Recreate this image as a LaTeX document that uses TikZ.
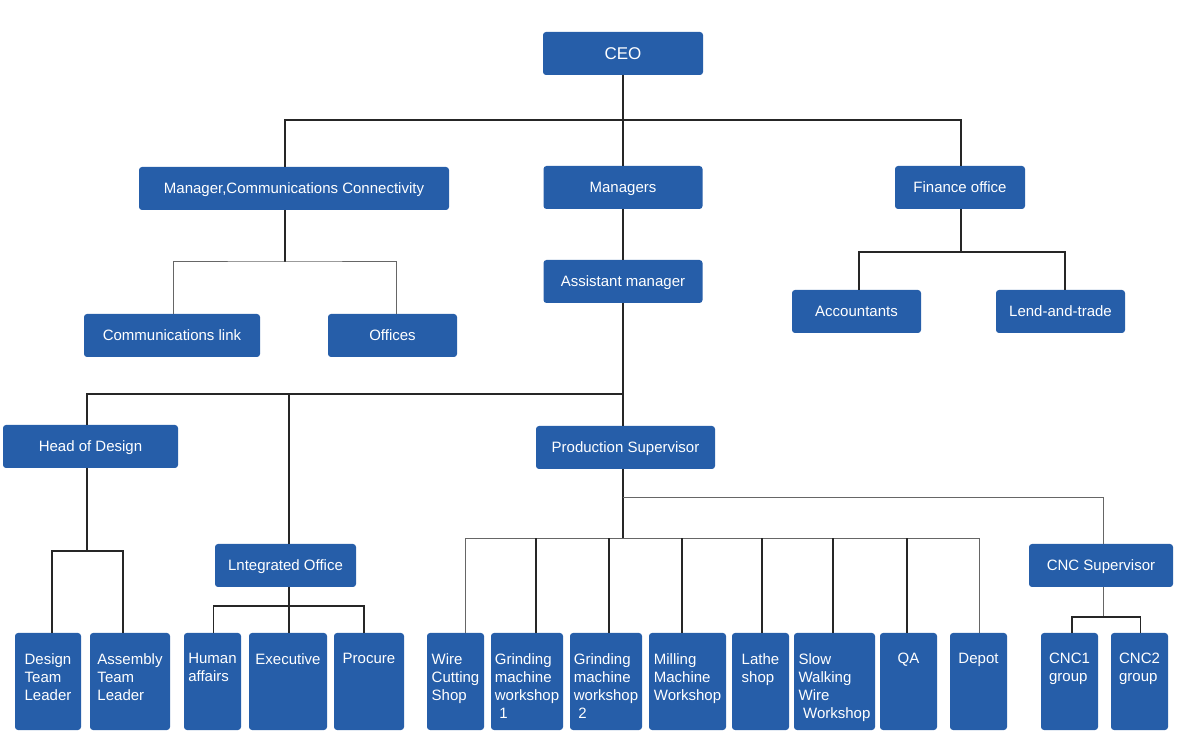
\documentclass[tikz,border=0pt]{standalone}
\usepackage{fontspec}
\setmainfont{Liberation Sans}
\usetikzlibrary{positioning}

\definecolor{boxblue}{HTML}{265EA9}

\tikzset{
  unit/.style={fill=boxblue, text=white, rounded corners=3pt, minimum height=43pt,
    inner sep=0pt, outer sep=0pt, text height=10.9pt, text depth=0pt,
    font=\fontsize{15}{18}\selectfont},
  leaf/.style={fill=boxblue, rounded corners=3pt, minimum height=97pt,
    inner sep=0pt, outer sep=0pt},
  leaftext/.style={text=white, align=left, inner sep=0pt, font=\fontsize{15}{18}\selectfont},
  link/.style={draw=black!85, line width=1.3pt},
  thinlink/.style={draw=black!60, line width=1pt},
}

\begin{document}
\begin{tikzpicture}[x=1pt, y=1pt]
  \useasboundingbox (0,0) rectangle (1200,753);

  % upper levels
  \node (ceo) [unit, minimum width=160pt, text height=12.4pt, font=\fontsize{17}{20}\selectfont] at (623,699.5) {CEO};
  \node (managers) [unit, minimum width=159pt, below=91pt of ceo] {Managers};
  \node (assistant) [unit, minimum width=159pt, below=51pt of managers] {Assistant manager};
  \node (mcc) [unit, minimum width=310pt] at (294,564.5) {Manager,Communications Connectivity};
  \node (finance) [unit, minimum width=130pt] at (960,565.5) {Finance office};
  \node (commlink) [unit, minimum width=176pt] at (172,417.5) {Communications link};
  \node (offices) [unit, minimum width=129pt, right=68pt of commlink] {Offices};
  \node (accountants) [unit, minimum width=129pt] at (856.5,441.5) {Accountants};
  \node (lend) [unit, minimum width=129pt, right=75pt of accountants] {Lend-and-trade};
  \node (design) [unit, minimum width=175pt] at (90.5,306.5) {Head of Design};
  \node (production) [unit, minimum width=179pt] at (625.5,305.5) {Production Supervisor};
  \node (integrated) [unit, minimum width=141pt] at (285.5,187.5) {Lntegrated Office};
  \node (cncsup) [unit, minimum width=144pt] at (1101,187.5) {CNC Supervisor};

  % bottom row
  \node (designlead) [leaf, minimum width=66pt] at (48,71.5) {};
  \node (assembly) [leaf, minimum width=80pt, right=9pt of designlead] {};
  \node (human) [leaf, minimum width=57pt, right=14pt of assembly] {};
  \node (executive) [leaf, minimum width=78pt, right=8pt of human] {};
  \node (procure) [leaf, minimum width=70pt, right=7pt of executive] {};
  \node (wire) [leaf, minimum width=57pt, right=23pt of procure] {};
  \node (grindone) [leaf, minimum width=72pt, right=7pt of wire] {};
  \node (grindtwo) [leaf, minimum width=72pt, right=7pt of grindone] {};
  \node (milling) [leaf, minimum width=77pt, right=7pt of grindtwo] {};
  \node (lathe) [leaf, minimum width=57pt, right=6pt of milling] {};
  \node (slow) [leaf, minimum width=81pt, right=5pt of lathe] {};
  \node (qa) [leaf, minimum width=57pt, right=5pt of slow] {};
  \node (depot) [leaf, minimum width=57pt, right=13pt of qa] {};
  \node (cncone) [leaf, minimum width=57pt, right=34pt of depot] {};
  \node (cnctwo) [leaf, minimum width=57pt, right=13pt of cncone] {};

  \node (designlead-t) [leaftext, below=20pt of designlead.north] {Design\\Team\\Leader};
  \node (assembly-t) [leaftext, below=20pt of assembly.north] {Assembly\\Team\\Leader};
  \node (human-t) [leaftext, below=20pt of human.north] {Human\\affairs};
  \node (executive-t) [leaftext, below=20pt of executive.north] {Executive};
  \node (procure-t) [leaftext, below=20pt of procure.north] {Procure};
  \node (wire-t) [leaftext, below=20pt of wire.north] {Wire\\Cutting\\Shop};
  \node (grindone-t) [leaftext, below=20pt of grindone.north] {Grinding\\machine\\workshop\\\hspace*{.3em}1};
  \node (grindtwo-t) [leaftext, below=20pt of grindtwo.north] {Grinding\\machine\\workshop\\\hspace*{.3em}2};
  \node (milling-t) [leaftext, below=20pt of milling.north] {Milling\\Machine\\Workshop};
  \node (lathe-t) [leaftext, below=20pt of lathe.north] {Lathe\\shop};
  \node (slow-t) [leaftext, below=20pt of slow.north] {Slow\\Walking\\Wire\\\hspace*{.3em}Workshop};
  \node (qa-t) [leaftext, below=20pt of qa.north] {QA};
  \node (depot-t) [leaftext, below=20pt of depot.north] {Depot};
  \node (cncone-t) [leaftext, below=20pt of cncone.north] {CNC1\\group};
  \node (cnctwo-t) [leaftext, below=20pt of cnctwo.north] {CNC2\\group};

  % bus points
  \coordinate (ceo-bus) at (623,633);
  \coordinate (mcc-bus) at (285,491);
  \coordinate (finance-bus) at (961,501);
  \coordinate (assistant-bus) at (623,359);
  \coordinate (design-bus) at (87,202);
  \coordinate (integrated-bus) at (289,147);
  \coordinate (production-branch) at (623,255);
  \coordinate (production-bus) at (623,214.5);
  \coordinate (cncsup-bus) at (1103,136);

  % connectors
  \draw [link] (ceo) -- (managers);
  \draw [link] ([xshift=-9pt]mcc.north) |- (ceo-bus) -| ([xshift=1pt]finance.north);
  \draw [link] (managers) -- (assistant);
  \draw [link] ([xshift=-9pt]mcc.south) -- (mcc-bus);
  \draw [thinlink] ([xshift=1pt]commlink.north) |- (mcc-bus) -| ([xshift=4pt]offices.north);
  \draw [link] ([xshift=1pt]finance.south) -- (finance-bus);
  \draw [link] ([xshift=2.5pt]accountants.north) |- (finance-bus) -| ([xshift=4.5pt]lend.north);
  \draw [link] (assistant.south) -- (assistant-bus);
  \draw [link] ([xshift=-3.5pt]design.north) |- (assistant-bus) -- ([xshift=-2.5pt]production.north);
  \draw [link] ([xshift=3.5pt]integrated.north) -- ([xshift=3.5pt]integrated.north |- assistant-bus);
  \draw [link] ([xshift=-3.5pt]design.south) -- (design-bus);
  \draw [link] ([xshift=4pt]designlead.north) |- (design-bus) -| ([xshift=-7pt]assembly.north);
  \draw [link] ([xshift=3.5pt]integrated.south) -- (integrated-bus);
  \draw [link] ([xshift=1pt]human.north) |- (integrated-bus) -| ([xshift=-5pt]procure.north);
  \draw [link] ([xshift=1pt]executive.north) -- ([xshift=1pt]executive.north |- integrated-bus);
  \draw [link] ([xshift=-2.5pt]production.south) -- (production-bus);
  \draw [thinlink] (production-branch) -| ([xshift=2pt]cncsup.north);
  \draw [thinlink] ([xshift=10pt]wire.north) |- (production-bus) -| ([xshift=1pt]depot.north);
  \draw [link] ([xshift=9pt]grindone.north) -- ([xshift=9pt]grindone.north |- production-bus);
  \draw [link] ([xshift=3pt]grindtwo.north) -- ([xshift=3pt]grindtwo.north |- production-bus);
  \draw [link] ([xshift=-5.5pt]milling.north) -- ([xshift=-5.5pt]milling.north |- production-bus);
  \draw [link] ([xshift=1.5pt]lathe.north) -- ([xshift=1.5pt]lathe.north |- production-bus);
  \draw [link] ([xshift=-1.5pt]slow.north) -- ([xshift=-1.5pt]slow.north |- production-bus);
  \draw [link] ([xshift=-1.5pt]qa.north) -- ([xshift=-1.5pt]qa.north |- production-bus);
  \draw [thinlink] ([xshift=2pt]cncsup.south) -- (cncsup-bus);
  \draw [link] ([xshift=2.5pt]cncone.north) |- (cncsup-bus) -| ([xshift=1pt]cnctwo.north);
\end{tikzpicture}
\end{document}
